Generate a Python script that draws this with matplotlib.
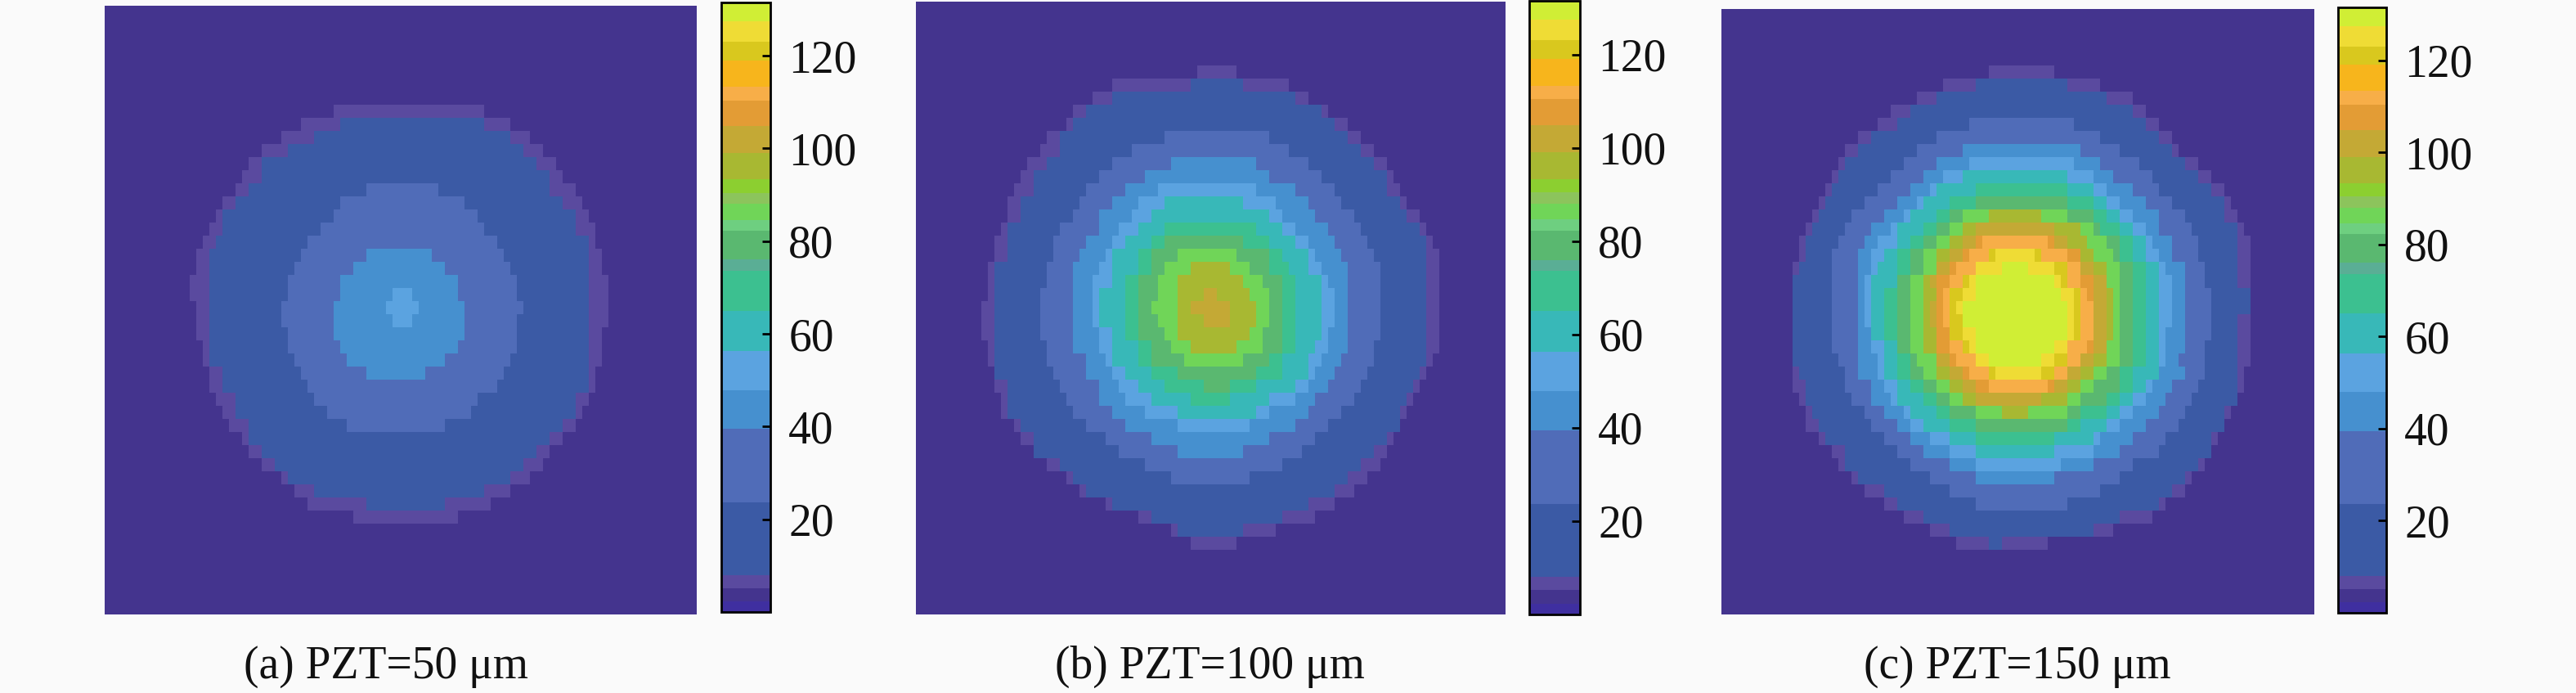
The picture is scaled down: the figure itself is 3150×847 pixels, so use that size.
"""Three PZT intensity maps with stepped colour bars."""

import numpy as np
import matplotlib
matplotlib.use('Agg')
import matplotlib.pyplot as plt
from matplotlib.colors import BoundaryNorm, ListedColormap

WIDTH, HEIGHT = 3150, 847
BACKGROUND = '#fafafa'

CAPTIONS = ['(a) PZT=50 μm', '(b) PZT=100 μm', '(c) PZT=150 μm']
TICKS = [20, 40, 60, 80, 100, 120]

BAND_EDGES = [0, 2.3, 5.2, 8, 23.7, 39.5, 47.9, 56.3, 65, 73.6, 76, 82.2,
              84.6, 88, 90.4, 93.3, 99, 104.8, 110.4, 113.3, 119, 123, 127.4,
              131.5]
BAND_COLORS = ['#3f2fa0', '#44348e', '#5a4a9f', '#3b5aa5', '#506cb8',
               '#4690cf', '#5ba3e0', '#38b8b8', '#3cc090', '#5aae95',
               '#5ab870', '#6ecf80', '#70d558', '#8cc45c', '#8ccf30',
               '#a8b832', '#c4a935', '#e39c35', '#f7ae48', '#f7b51c',
               '#d9c81e', '#efdc35', '#d0ee35']

# each map is stored as nested rings: value inside the ring, first row it
# appears on, then its left and right column on each following row
FLOOR_VALUE = 3.5
N_ROWS, N_COLS = 47, 92

A_VALUES = [6.5, 16, 32, 44, 52]
A_FIRST = [8, 9, 14, 19, 22]
A_LEFT = [
    [35, 30, 27, 24, 22, 21, 20, 18, 17, 16, 15, 14, 14, 13, 13, 14, 14, 14,
     15, 15, 16, 16, 17, 18, 19, 21, 22, 24, 27, 29, 31, 38],
    [36, 32, 28, 24, 24, 22, 20, 18, 18, 17, 16, 16, 16, 16, 16, 16, 16, 16,
     16, 18, 18, 20, 20, 22, 22, 24, 26, 28, 32, 40],
    [40, 36, 35, 33, 31, 30, 29, 28, 28, 27, 27, 28, 28, 29, 30, 31, 32, 34,
     37],
    [40, 38, 36, 36, 35, 35, 35, 36, 37, 40],
    [44, 43, 44],
]
A_RIGHT = [
    [58, 62, 65, 67, 69, 70, 72, 73, 74, 75, 75, 76, 76, 77, 77, 77, 77, 76,
     76, 76, 75, 75, 74, 73, 72, 70, 68, 67, 65, 62, 59, 54],
    [58, 62, 64, 66, 68, 68, 70, 72, 72, 74, 74, 74, 74, 74, 74, 74, 74, 74,
     74, 74, 74, 72, 72, 70, 68, 66, 64, 62, 58, 52],
    [51, 55, 57, 58, 60, 61, 62, 63, 63, 64, 63, 63, 63, 62, 61, 60, 57, 56,
     52],
    [50, 52, 54, 54, 55, 55, 55, 54, 52, 49],
    [47, 48, 47],
]

B_VALUES = [6.5, 16, 32, 44, 52, 60, 70, 79, 86, 96, 102]
B_FIRST = [5, 6, 10, 12, 14, 15, 17, 18, 19, 20, 22]
B_LEFT = [
    [43, 30, 27, 24, 23, 20, 19, 17, 16, 15, 14, 14, 13, 12, 12, 11, 11, 11,
     10, 10, 10, 11, 11, 12, 12, 13, 13, 15, 16, 18, 20, 23, 25, 29, 34, 39,
     42],
    [42, 30, 26, 24, 22, 22, 20, 18, 18, 16, 16, 14, 14, 14, 12, 12, 12, 12,
     12, 12, 12, 12, 12, 14, 14, 14, 16, 18, 18, 22, 24, 26, 30, 36, 40],
    [38, 33, 30, 28, 26, 25, 24, 22, 21, 21, 20, 20, 19, 19, 19, 19, 20, 20,
     21, 22, 23, 24, 26, 29, 31, 35, 39],
    [39, 35, 32, 30, 28, 28, 26, 25, 24, 24, 24, 24, 24, 24, 24, 26, 26, 28,
     28, 30, 32, 36, 40],
    [37, 34, 33, 31, 30, 29, 28, 27, 27, 27, 27, 28, 28, 29, 30, 31, 32, 35,
     40],
    [38, 36, 34, 32, 30, 30, 30, 28, 28, 28, 30, 30, 30, 32, 34, 36, 40],
    [38, 36, 34, 34, 32, 32, 32, 32, 32, 34, 34, 36, 38, 42],
    [38, 36, 36, 34, 34, 34, 34, 34, 36, 36, 40, 44],
    [40, 38, 37, 37, 36, 37, 38, 39, 41],
    [42, 40, 40, 40, 40, 40, 42],
    [44, 42, 44],
]
B_RIGHT = [
    [49, 57, 60, 63, 66, 68, 70, 72, 73, 74, 75, 77, 78, 79, 80, 80, 80, 80,
     80, 80, 80, 80, 79, 78, 77, 76, 75, 74, 73, 72, 71, 69, 67, 64, 61, 55,
     49],
    [50, 58, 62, 64, 66, 68, 70, 72, 72, 74, 75, 77, 78, 78, 78, 78, 78, 78,
     78, 78, 78, 78, 77, 76, 75, 74, 74, 72, 70, 68, 66, 64, 60, 56, 50],
    [54, 57, 60, 62, 64, 65, 67, 68, 69, 70, 71, 71, 71, 71, 71, 71, 70, 70,
     69, 68, 67, 65, 63, 61, 59, 56, 51],
    [52, 54, 58, 60, 61, 63, 64, 65, 66, 66, 66, 66, 66, 66, 66, 65, 64, 63,
     61, 60, 58, 54, 50],
    [52, 55, 56, 58, 60, 61, 62, 63, 64, 64, 64, 63, 63, 62, 61, 60, 58, 54,
     51],
    [50, 54, 56, 58, 60, 60, 62, 62, 62, 62, 62, 61, 60, 60, 58, 54, 52],
    [52, 54, 56, 57, 58, 58, 58, 58, 58, 58, 56, 56, 52, 48],
    [50, 54, 54, 56, 56, 56, 56, 56, 56, 54, 52, 48],
    [49, 51, 53, 54, 54, 54, 53, 53, 50],
    [48, 50, 51, 52, 52, 51, 49],
    [46, 48, 48],
]

C_VALUES = [6.5, 16, 32, 44, 52, 60, 70, 79, 86, 96, 102, 107, 112, 121, 125,
            129]
C_FIRST = [5, 6, 9, 11, 12, 13, 14, 15, 16, 16, 17, 18, 18, 19, 19, 20]
C_LEFT = [
    [41, 34, 30, 26, 24, 21, 19, 18, 17, 16, 15, 14, 13, 12, 12, 11, 11, 11,
     11, 11, 11, 11, 11, 11, 11, 12, 13, 13, 15, 17, 18, 20, 22, 25, 28, 32,
     36],
    [39, 33, 29, 27, 23, 21, 19, 18, 17, 16, 15, 14, 13, 13, 12, 11, 11, 11,
     11, 11, 11, 11, 12, 13, 13, 14, 15, 16, 19, 19, 21, 25, 27, 31, 35, 41],
    [38, 33, 30, 28, 26, 24, 22, 20, 19, 18, 17, 17, 17, 17, 17, 17, 17, 17,
     18, 19, 19, 20, 22, 23, 25, 27, 29, 32, 35, 39],
    [37, 33, 31, 29, 27, 25, 23, 22, 21, 21, 21, 21, 21, 21, 21, 21, 21, 21,
     23, 23, 25, 27, 29, 31, 35, 39],
    [38, 34, 32, 30, 28, 26, 24, 23, 23, 22, 22, 22, 22, 23, 23, 24, 24, 25,
     26, 28, 29, 32, 35, 39],
    [37, 33, 31, 29, 27, 27, 25, 24, 23, 23, 23, 23, 23, 25, 25, 25, 27, 27,
     29, 31, 35, 39],
    [39, 35, 33, 31, 29, 27, 27, 27, 25, 25, 25, 25, 27, 27, 27, 29, 31, 33,
     35, 39],
    [39, 35, 33, 31, 29, 29, 27, 27, 27, 27, 27, 27, 29, 29, 31, 33, 35, 39],
    [37, 35, 33, 31, 31, 29, 29, 29, 29, 29, 29, 30, 31, 33, 35, 39],
    [41, 37, 35, 33, 33, 31, 31, 31, 31, 31, 31, 33, 33, 35, 37, 43],
    [39, 37, 35, 33, 32, 33, 32, 32, 33, 33, 33, 35, 37, 39],
    [39, 37, 35, 33, 33, 33, 33, 33, 33, 35, 37, 39],
    [40, 38, 36, 35, 34, 34, 34, 35, 35, 36, 38, 41],
    [41, 39, 37, 35, 35, 35, 35, 37, 39, 41],
    [42, 39, 38, 37, 36, 37, 37, 38, 39, 42],
    [43, 39, 39, 37, 37, 39, 39, 41],
]
C_RIGHT = [
    [51, 58, 63, 65, 67, 69, 70, 73, 75, 77, 78, 79, 80, 81, 81, 81, 81, 81,
     81, 81, 81, 81, 81, 80, 80, 79, 78, 77, 76, 75, 74, 72, 71, 68, 66, 60,
     50],
    [53, 59, 63, 65, 67, 69, 71, 73, 75, 77, 77, 79, 79, 79, 79, 79, 81, 81,
     79, 79, 79, 79, 79, 79, 79, 77, 77, 75, 75, 73, 71, 69, 67, 61, 57, 43],
    [54, 58, 61, 64, 66, 67, 69, 71, 72, 73, 73, 74, 74, 75, 75, 75, 75, 74,
     74, 74, 73, 72, 71, 70, 68, 67, 63, 61, 58, 53],
    [55, 58, 60, 63, 65, 67, 67, 69, 69, 71, 71, 71, 71, 71, 71, 71, 70, 71,
     69, 68, 67, 65, 63, 61, 57, 51],
    [54, 57, 59, 61, 63, 65, 66, 67, 68, 69, 69, 69, 69, 68, 68, 68, 67, 66,
     65, 63, 61, 58, 57, 52],
    [53, 57, 59, 61, 63, 65, 65, 67, 67, 67, 67, 67, 67, 67, 67, 67, 65, 63,
     61, 59, 57, 51],
    [53, 57, 59, 61, 63, 63, 65, 65, 65, 65, 65, 65, 65, 65, 63, 63, 61, 59,
     55, 51],
    [53, 57, 58, 61, 61, 63, 63, 63, 63, 63, 63, 63, 63, 61, 61, 59, 55, 53],
    [53, 57, 59, 60, 61, 61, 61, 61, 61, 61, 61, 61, 59, 57, 55, 53],
    [49, 55, 56, 57, 59, 59, 60, 60, 60, 60, 59, 59, 57, 55, 53, 47],
    [51, 53, 55, 57, 59, 59, 59, 59, 59, 59, 57, 55, 53, 49],
    [51, 55, 55, 57, 57, 57, 57, 57, 57, 55, 53, 51],
    [50, 53, 55, 55, 56, 57, 57, 57, 56, 55, 53, 50],
    [49, 53, 53, 55, 55, 55, 55, 53, 53, 51],
    [48, 51, 52, 54, 54, 54, 54, 53, 51, 49],
    [47, 51, 52, 53, 53, 53, 51, 49],
]


def place(fig, left, top, right, bottom):
    """Add an axes given by its pixel box, measured from the top left."""
    return fig.add_axes([left / WIDTH, 1 - bottom / HEIGHT,
                         (right - left) / WIDTH, (bottom - top) / HEIGHT])


def build_grid(values, first_rows, lefts, rights):
    """Paint the rings from the outside in."""
    grid = np.full((N_ROWS, N_COLS), FLOOR_VALUE)
    for value, first, left, right in zip(values, first_rows, lefts, rights):
        for offset, (start, stop) in enumerate(zip(left, right)):
            grid[first + offset, start:stop] = value
    return grid


def draw_panel(fig, grid, box, base_col, cbar_box, caption, caption_x, cmap, norm):
    ax = place(fig, *box)
    mesh = ax.pcolormesh(grid, cmap=cmap, norm=norm, antialiased=False)
    # one column is 8 px wide and one row is 16 px high in the target
    ax.set_xlim((box[0] - base_col) / 8, (box[2] - base_col) / 8)
    ax.set_ylim(box[3] / 16, box[1] / 16)
    ax.axis('off')

    cax = place(fig, *cbar_box)
    cbar = fig.colorbar(mesh, cax=cax, spacing='proportional', ticks=TICKS)
    cbar.outline.set_edgecolor('black')
    cbar.outline.set_linewidth(2)
    cbar.minorticks_off()
    cax.tick_params(direction='in', length=7, width=2, color='black',
                    labelsize=40, labelcolor='#111111', pad=16)
    fig.text(caption_x / WIDTH, 1 - 815 / HEIGHT, caption, fontsize=40,
             ha='center', va='center', color='#111111')


def make_plot():
    plt.rcParams['font.family'] = ['Liberation Serif', 'DejaVu Serif']
    fig = plt.figure(figsize=(WIDTH / 100, HEIGHT / 100), dpi=100,
                     facecolor=BACKGROUND)
    cmap = ListedColormap(BAND_COLORS)
    norm = BoundaryNorm(BAND_EDGES, cmap.N)

    draw_panel(fig, build_grid(A_VALUES, A_FIRST, A_LEFT, A_RIGHT),
               (128, 7, 852, 751), 128, (882, 3, 942, 748),
               CAPTIONS[0], 472, cmap, norm)
    draw_panel(fig, build_grid(B_VALUES, B_FIRST, B_LEFT, B_RIGHT),
               (1118, 2, 1841, 751), 1120, (1870, 1, 1932, 751),
               CAPTIONS[1], 1479, cmap, norm)
    draw_panel(fig, build_grid(C_VALUES, C_FIRST, C_LEFT, C_RIGHT),
               (2105, 11, 2830, 751), 2104, (2859, 9, 2918, 749),
               CAPTIONS[2], 2467, cmap, norm)

    fig.savefig('out.png', dpi=100, facecolor=BACKGROUND)


if __name__ == '__main__':
    make_plot()
